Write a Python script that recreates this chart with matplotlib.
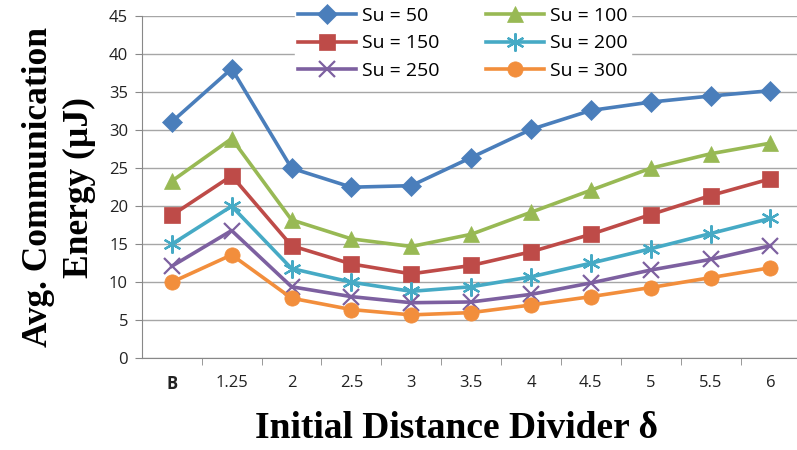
import matplotlib
matplotlib.use('Agg')
import matplotlib.pyplot as plt
import numpy as np

# 数据
categories = ['B', '1.25', '2', '2.5', '3', '3.5', '4', '4.5', '5', '5.5', '6']
su_50 = [31.1, 38.1, 25.0, 22.5, 22.7, 26.4, 30.1, 32.6, 33.7, 34.5, 35.2]
su_100 = [23.3, 28.9, 18.2, 15.7, 14.7, 16.3, 19.2, 22.1, 25.0, 26.9, 28.3]
su_150 = [18.8, 24.0, 14.8, 12.4, 11.1, 12.2, 14.0, 16.3, 18.9, 21.4, 23.6]
su_200 = [15.0, 20.0, 11.8, 10.0, 8.8, 9.4, 10.7, 12.5, 14.4, 16.4, 18.4]
su_250 = [12.1, 16.8, 9.4, 8.1, 7.3, 7.4, 8.4, 9.9, 11.6, 13.0, 14.8]
su_300 = [10.0, 13.6, 7.9, 6.4, 5.7, 6.0, 7.0, 8.1, 9.3, 10.6, 11.9]

series = [
    ('Su = 50', su_50, '#4A7EBB', 'D', 10),
    ('Su = 100', su_100, '#98B954', '^', 12),
    ('Su = 150', su_150, '#BE4B48', 's', 11),
    ('Su = 200', su_200, '#46AAC5', (6, 2, 0), 13),
    ('Su = 250', su_250, '#7D60A0', 'x', 11),
    ('Su = 300', su_300, '#F28E3C', 'o', 11),
]

fig = plt.figure(figsize=(7.97, 4.5), dpi=100)
ax = fig.add_axes([0.178, 0.204, 0.83, 0.76])

x = np.arange(len(categories))
handles = {}
for name, vals, color, marker, ms in series:
    line, = ax.plot(x, vals, color=color, linewidth=2.6, marker=marker,
                    markersize=ms, markeredgewidth=1.6 if marker in ('x', (6, 2, 0)) else 0.5,
                    markeredgecolor=color, markerfacecolor=color, label=name, zorder=3)
    handles[name] = line

ax.set_ylim(0, 45)
ax.set_yticks(np.arange(0, 46, 5))
ax.set_xlim(-0.5, 10.55)
ax.set_xticks(x)
ax.set_xticklabels(categories)
ax.set_xticks(np.arange(0.5, 10.5, 1), minor=True)
ax.tick_params(axis='x', which='major', length=0, pad=12)
ax.tick_params(axis='x', which='minor', length=5, color='#888888', direction='out')
ax.tick_params(axis='y', length=5, color='#888888', direction='out', pad=5)

for lab in ax.get_xticklabels() + ax.get_yticklabels():
    lab.set_fontfamily('Open Sans')
    lab.set_fontsize(12)
    lab.set_color('#222222')
ax.get_xticklabels()[0].set_fontweight('bold')

ax.grid(axis='y', color='#A6A6A6', linewidth=1.0)
ax.set_axisbelow(True)
for side in ['top', 'right']:
    ax.spines[side].set_visible(False)
for side in ['left', 'bottom']:
    ax.spines[side].set_color('#888888')

ax.set_xlabel('Initial Distance Divider δ', fontfamily='Liberation Serif',
              fontweight='bold', fontsize=27)
ax.xaxis.set_label_coords(0.475, -0.155)
ax.xaxis.label.set_va('top')
ax.set_ylabel('Avg. Communication\nEnergy (µJ)', fontfamily='Liberation Serif',
              fontweight='bold', fontsize=25.5, linespacing=1.3)
ax.yaxis.set_label_coords(-0.07, 0.5)

order = ['Su = 50', 'Su = 150', 'Su = 250', 'Su = 100', 'Su = 200', 'Su = 300']
leg = ax.legend([handles[n] for n in order], order, ncol=2, loc='upper center',
                bbox_to_anchor=(0.485, 1.065), frameon=True, facecolor='white',
                edgecolor='white', framealpha=1.0, handlelength=3.0,
                columnspacing=2.4, labelspacing=0.5, borderpad=0.15,
                handletextpad=0.3, prop={'family': 'Open Sans', 'size': 14})
leg.set_zorder(5)

plt.savefig('out.png', dpi=100)
plt.close()
